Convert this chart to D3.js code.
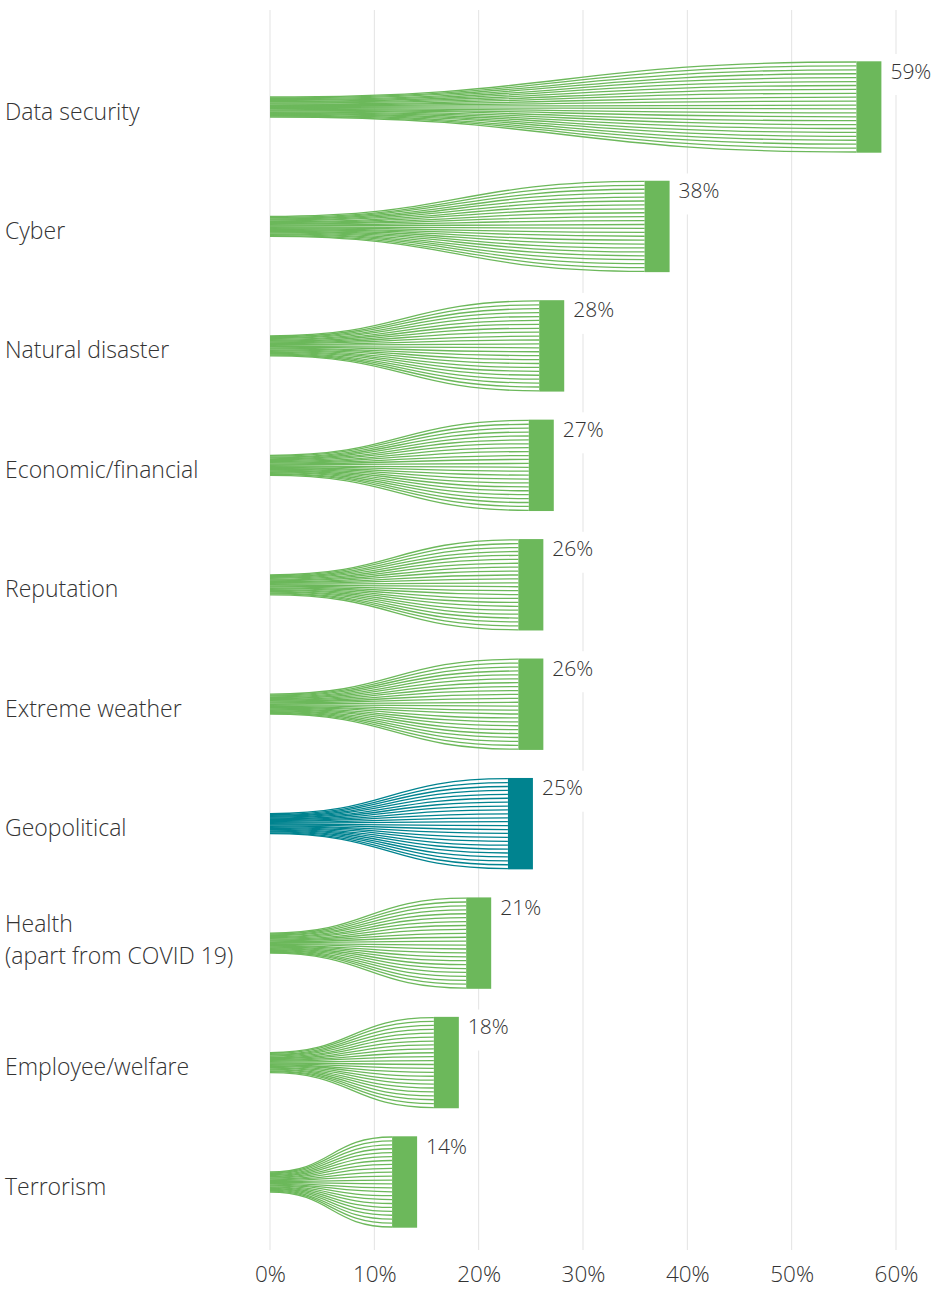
<!DOCTYPE html>
<html>
<head>
<meta charset="utf-8">
<script src="https://cdn.jsdelivr.net/npm/d3@7"></script>
<style>
  html, body { margin: 0; padding: 0; background: #fff; }
  svg { display: block; font-family: "Open Sans", sans-serif; }
</style>
</head>
<body>
<svg id="chart" width="931" height="1289"></svg>
<script>
const categories = ["Data security", "Cyber", "Natural disaster", "Economic/financial", "Reputation",
  "Extreme weather", "Geopolitical", "Health\n(apart from COVID 19)", "Employee/welfare", "Terrorism"];
const values = [58.6, 38.3, 28.2, 27.2, 26.2, 26.2, 25.2, 21.2, 18.1, 14.1];
const highlighted = ["Geopolitical"];
const xTicks = [0, 10, 20, 30, 40, 50, 60];

const GREEN = "#6cb85b", TEAL = "#00838f", TEXT = "#333333", GRID = "#e3e3e3";
const nLines = 24;

const svg = d3.select("#chart");
const x = d3.scaleLinear().domain([0, 60]).range([270, 896]);
const y = d3.scalePoint().domain(categories).range([107, 1182]);

// gridlines
svg.append("g").selectAll("line").data(xTicks).join("line")
  .attr("x1", d => x(d)).attr("x2", d => x(d))
  .attr("y1", 10).attr("y2", 1250)
  .attr("stroke", GRID).attr("stroke-width", 1);

// axis labels
const axis = d3.axisBottom(x).tickValues(xTicks).tickFormat(d => d + "%").tickSize(0).tickPadding(0);
const ax = svg.append("g").attr("transform", "translate(0,1282)").call(axis);
ax.select(".domain").remove();
ax.selectAll("text").attr("dy", 0).attr("y", 0)
  .attr("font-size", 22.5).attr("font-family", "Open Sans, sans-serif").attr("font-weight", 300)
  .attr("fill", TEXT);

const barW = 25, startHalf = 10, endHalf = 45;
const g = svg.append("g");
categories.forEach((c, ci) => {
  const v = values[ci];
  const col = highlighted.includes(c) ? TEAL : GREEN;
  const cy = y(c);
  const x0 = x(0), x1 = x(v) - barW;
  const xm = x0 + (x1 - x0) * 0.5;
  const idx = d3.range(nLines);
  const ys = d3.scaleLinear().domain([0, nLines - 1]).range([cy - startHalf, cy + startHalf]);
  const ye = d3.scaleLinear().domain([0, nLines - 1]).range([cy - endHalf, cy + endHalf]);
  g.append("g").selectAll("path").data(idx).join("path")
    .attr("d", i => {
      const p = d3.path();
      p.moveTo(x0, ys(i));
      p.bezierCurveTo(xm, ys(i), xm, ye(i), x1, ye(i));
      return p.toString();
    })
    .attr("fill", "none").attr("stroke", col).attr("stroke-width", 1.3);
  g.append("rect")
    .attr("x", x1).attr("y", cy - endHalf - 0.7)
    .attr("width", barW).attr("height", endHalf * 2 + 1.4)
    .attr("fill", col);

  // value label with white backing
  const lx = x(v) + 9;
  const lbl = Math.round(v) + "%";
  const bg = g.append("rect");
  const t = g.append("text").attr("x", lx).attr("y", cy - endHalf + 16.5)
    .attr("font-size", 21).attr("font-weight", 300).attr("fill", TEXT).text(lbl);
  const w = t.node().getComputedTextLength();
  bg.attr("x", lx - 3).attr("y", cy - endHalf - 8)
    .attr("width", w + 6).attr("height", 41).attr("fill", "#fff");

  // category label
  const lines = c.split("\n");
  const ct = svg.append("text").attr("font-size", 23).attr("font-weight", 300).attr("fill", TEXT);
  if (lines.length === 1) {
    ct.append("tspan").attr("x", 5).attr("y", cy + 12.5).text(lines[0]);
  } else {
    lines.forEach((l, li) => ct.append("tspan").attr("x", 5).attr("y", cy - 11 + li * 32).text(l));
  }
});
</script>
</body>
</html>
